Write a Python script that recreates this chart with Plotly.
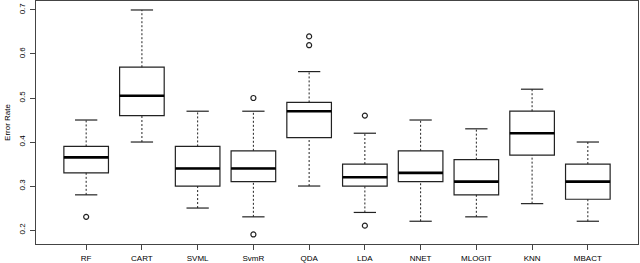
import plotly.graph_objects as go

methods = ["RF", "CART", "SVML", "SvmR", "QDA", "LDA", "NNET", "MLOGIT", "KNN", "MBACT"]
lower = [0.28, 0.40, 0.25, 0.23, 0.30, 0.24, 0.22, 0.23, 0.26, 0.22]
q1 = [0.33, 0.46, 0.30, 0.31, 0.41, 0.30, 0.31, 0.28, 0.37, 0.27]
median = [0.365, 0.505, 0.34, 0.34, 0.47, 0.32, 0.33, 0.31, 0.42, 0.31]
q3 = [0.39, 0.57, 0.39, 0.38, 0.49, 0.35, 0.38, 0.36, 0.47, 0.35]
upper = [0.45, 0.70, 0.47, 0.47, 0.56, 0.42, 0.45, 0.43, 0.52, 0.40]
outliers = {"RF": [0.23], "SvmR": [0.50, 0.19], "QDA": [0.64, 0.62], "LDA": [0.46, 0.21]}
y_ticks = [0.2, 0.3, 0.4, 0.5, 0.6, 0.7]

pos = list(range(1, len(methods) + 1))
BOXW = 0.8
CAPW = 0.4
font = dict(family="Liberation Sans, Arial, sans-serif", size=8, color="#000")

fig = go.Figure()

# boxes (no whiskers from the box trace itself)
fig.add_trace(go.Box(
    x=pos, q1=q1, median=median, q3=q3, lowerfence=q1, upperfence=q3,
    width=BOXW, fillcolor="white", line=dict(color="#222", width=1.2),
    whiskerwidth=0, boxpoints=False, hoverinfo="skip", showlegend=False))

# dashed whiskers
wx, wy = [], []
for p, lo, a, b, hi in zip(pos, lower, q1, q3, upper):
    wx += [p, p, None, p, p, None]
    wy += [lo, a, None, b, hi, None]
fig.add_trace(go.Scatter(x=wx, y=wy, mode="lines",
                         line=dict(color="#222", width=1, dash="2px,2px"),
                         hoverinfo="skip", showlegend=False))

# caps
cx, cy = [], []
for p, lo, hi in zip(pos, lower, upper):
    cx += [p - CAPW / 2, p + CAPW / 2, None, p - CAPW / 2, p + CAPW / 2, None]
    cy += [lo, lo, None, hi, hi, None]
fig.add_trace(go.Scatter(x=cx, y=cy, mode="lines", line=dict(color="#222", width=1.2),
                         hoverinfo="skip", showlegend=False))

# thick medians
mx, my = [], []
for p, m in zip(pos, median):
    mx += [p - BOXW / 2, p + BOXW / 2, None]
    my += [m, m, None]
fig.add_trace(go.Scatter(x=mx, y=my, mode="lines", line=dict(color="#000", width=2.6),
                         hoverinfo="skip", showlegend=False))

# outliers
ox, oy = [], []
for name, vals in outliers.items():
    for v in vals:
        ox.append(pos[methods.index(name)])
        oy.append(v)
fig.add_trace(go.Scatter(x=ox, y=oy, mode="markers",
                         marker=dict(symbol="circle-open", size=5, color="#222", line=dict(width=1.2)),
                         hoverinfo="skip", showlegend=False))

fig.update_layout(
    width=640, height=263,
    margin=dict(l=36, r=2, t=1, b=19, autoexpand=False),
    paper_bgcolor="white", plot_bgcolor="white",
    font=font, showlegend=False,
    xaxis=dict(range=[0.1, 10.9], tickmode="array", tickvals=pos, ticktext=methods,
               showgrid=False, zeroline=False, showline=True, linecolor="#444", linewidth=1,
               mirror=True, ticks="outside", ticklen=5, tickcolor="#444", tickfont=font,
               ticklabelstandoff=1),
    yaxis=dict(range=[0.1683, 0.7204], tickmode="array", tickvals=y_ticks,
               ticktext=[f"{t:.1f}" for t in y_ticks], tickangle=-90,
               showgrid=False, zeroline=False, showline=True, linecolor="#444", linewidth=1,
               mirror=True, ticks="outside", ticklen=5, tickcolor="#444", tickfont=font,
               ticklabelstandoff=2,
               title=dict(text="Error Rate", font=font, standoff=5)),
)

fig.write_html("out.html", config={"displayModeBar": False},
               post_script="document.body.style.margin='0';document.body.style.overflow='hidden';")
